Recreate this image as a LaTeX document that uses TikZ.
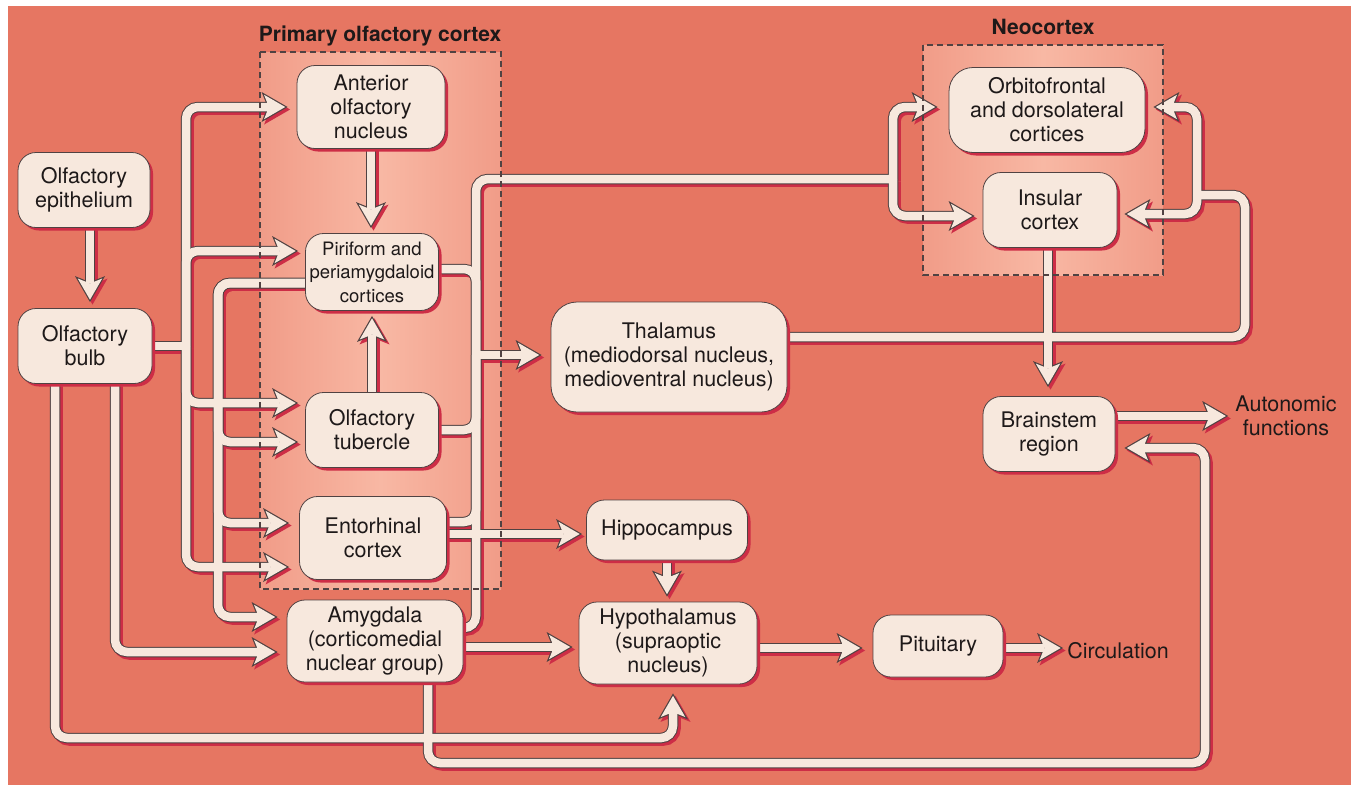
\documentclass[tikz,border=0pt]{standalone}
\usepackage{fontspec}
\setmainfont{TeX Gyre Heros}
\usetikzlibrary{arrows.meta,shadows}
\definecolor{bgsal}{RGB}{230,118,98}
\definecolor{panA}{RGB}{241,156,136}
\definecolor{panB}{RGB}{248,184,164}
\definecolor{cream}{RGB}{247,232,221}
\definecolor{outl}{RGB}{80,66,66}
\definecolor{shad}{RGB}{205,45,70}
\definecolor{txt}{RGB}{30,25,25}
\pgfdeclarelayer{back}
\pgfdeclarelayer{conn}
\pgfsetlayers{back,conn,main}

\newcommand\allconn{%
 % epithelium -> bulb
 \draw[cna=6pt] ([xshift=6pt]epi.south) -- ([xshift=6pt]epi.south |- bulb.north);
 % bulb trunk
 \draw[cn] (bulb.east) -- (jb);
 \draw[cna=9pt] (jb) |- (aon.west);
 \draw[cna=7pt] (jb) |- ([yshift=21pt]pir.west);
 \draw[cna=7pt] (jb) |- ([yshift=27pt]tub.west);
 \draw[cna=10pt] (jb) |- ([yshift=-29pt]ent.west);
 % piriform -> tubercle, entorhinal, amygdala
 \draw[cna=9pt] ([yshift=-11pt]pir.west) -| (218,330) |- ([yshift=24pt]amy.west);
 \draw[cna=7pt] ([yshift=-11pt]pir.west) -| (218,330) |- ([yshift=-12pt]tub.west);
 \draw[cna=10pt] ([yshift=-11pt]pir.west) -| (218,330) |- ([yshift=15pt]ent.west);
 % bulb bottom lines
 \draw[cna=9pt] ([xshift=-30pt]bulb.south) |- (673,738) -- ([xshift=5pt]hyp.south);
 \draw[cna=9pt] ([xshift=30pt]bulb.south) |- ([yshift=-11pt]amy.west);
 % amygdala -> hypothalamus
 \draw[cna=6pt] ([yshift=-6pt]amy.east) -- ([yshift=-4pt]hyp.west);
 % amygdala -> brainstem
 \draw[cna=9pt] ([xshift=53pt]amy.south) |- (1205,763) |- ([yshift=-14pt]brain.east);
 % amygdala -> neocortex
 \draw[cn] ([yshift=13pt]amy.east) -| (476,179) -- (jn);
 \draw[cna=11pt] (jn) |- ([yshift=3pt]orb.west);
 \draw[cna=8pt] (jn) |- ([yshift=-6pt]ins.west);
 % primary cortex -> thalamus
 \draw[cn] ([yshift=3pt]pir.east) -| (jt);
 \draw[cn] (tub.east) -| (jt);
 \draw[cn] ([yshift=16pt]ent.east) -| (jt);
 \draw[cna=9pt] (jt) -- ([yshift=2pt]thal.west);
 % entorhinal -> hippocampus
 \draw[cna=4pt] ([yshift=4pt]ent.east) -- ([yshift=-4pt]hip.west);
 % thalamus -> neocortex
 \draw[cn] ([yshift=20pt]thal.east) -| (1245,195) -- (jr);
 \draw[cna=8pt] (jr) |- ([yshift=3pt]orb.east);
 \draw[cna=7pt] (jr) |- ([yshift=-4pt]ins.east);
 % insular -> brainstem
 \draw[cna=9pt] ([xshift=-2pt]ins.south) -- ([xshift=-2pt]ins.south |- brain.north);
 % brainstem -> autonomic
 \draw[cna=5pt] ([yshift=18pt]brain.east) -- (auto.west);
 % hippocampus -> hypothalamus
 \draw[cna=5pt] (hip.south) -- (hip.south |- hyp.north);
 % hypothalamus -> pituitary
 \draw[cna=10pt] ([yshift=-5pt]hyp.east) -- ([yshift=-2pt]pit.west);
 % pituitary -> circulation
 \draw[cna=2pt] ([yshift=-2pt]pit.east) -- ([yshift=3pt]circ.west);
 % anterior -> piriform, tubercle -> piriform
 \draw[cna=5pt] (aon.south) -- (aon.south |- pir.north);
 \draw[cna=5pt] (tub.north) -- (pir.south);
}

\begin{document}
\begin{tikzpicture}[x=1pt, y=-1pt,
  font=\fontsize{21.5pt}{24pt}\selectfont, text=txt,
  box/.style={draw=outl, line width=0.8pt, fill=cream, rounded corners=18pt,
    align=center, inner sep=2pt,
    drop shadow={shadow xshift=3pt, shadow yshift=-3pt, fill=shad, opacity=1}},
  lbl/.style={align=center, inner sep=2pt},
  ttl/.style={inner sep=1pt, font=\fontsize{21pt}{24pt}\selectfont\bfseries},
  dashbox/.style={draw=outl, line width=1.3pt, dash pattern=on 6pt off 4pt}]
\useasboundingbox (0,0) rectangle (1359,785);

\begin{pgfonlayer}{back}
 \fill[white] (0,0) rectangle (1359,785);
 \fill[bgsal] (8,6) rectangle (1351,785);
 \shade[left color=panA, right color=panA, middle color=panB] (260,52) rectangle (501,589);
 \shade[left color=panA, right color=panA, middle color=panB] (923,45) rectangle (1163,275);
\end{pgfonlayer}

% junction points
\coordinate (jb) at (186,346);
\coordinate (jt) at (476,355);
\coordinate (jn) at (893,179);
\coordinate (jr) at (1197,195);

% nodes
\node[box, minimum width=132pt, minimum height=75pt] (epi) at (84,190) {Olfactory\\epithelium};
\node[box, minimum width=134pt, minimum height=75pt] (bulb) at (85,346) {Olfactory\\bulb};
\node[box, minimum width=148pt, minimum height=83pt] (aon) at (371,107) {Anterior\\olfactory\\nucleus};
\node[box, minimum width=133pt, minimum height=77pt, font=\fontsize{18.5pt}{23.5pt}\selectfont] (pir) at (372,272) {Piriform and\\periamygdaloid\\cortices};
\node[box, minimum width=133pt, minimum height=75pt] (tub) at (372,430) {Olfactory\\tubercle};
\node[box, minimum width=147pt, minimum height=83pt] (ent) at (373,538) {Entorhinal\\cortex};
\node[box, minimum width=176pt, minimum height=82pt] (amy) at (375,641) {Amygdala\\(corticomedial\\nuclear group)};
\node[box, minimum width=236pt, minimum height=110pt, rounded corners=26pt] (thal) at (669,357) {Thalamus\\(mediodorsal nucleus,\\medioventral nucleus)};
\node[box, minimum width=196pt, minimum height=85pt, rounded corners=24pt] (orb) at (1047,110) {Orbitofrontal\\and dorsolateral\\cortices};
\node[box, minimum width=134pt, minimum height=75pt] (ins) at (1050,210) {Insular\\cortex};
\node[box, minimum width=132pt, minimum height=75pt] (brain) at (1049,434) {Brainstem\\region};
\node[box, minimum width=161pt, minimum height=60pt] (hip) at (667,530) {Hippocampus};
\node[box, minimum width=178pt, minimum height=82pt] (hyp) at (668,643) {Hypothalamus\\(supraoptic\\nucleus)};
\node[box, minimum width=130pt, minimum height=62pt] (pit) at (938,646) {Pituitary};
\node[lbl] (auto) at (1286,416) {Autonomic\\functions};
\node[lbl] (circ) at (1118,651) {Circulation};
\node[ttl] (tpoc) at (380,36) {Primary olfactory cortex};
\node[ttl] (tneo) at (1043,27) {Neocortex};

% dashed region borders
\draw[dashbox] (260,52) rectangle (501,589);
\draw[dashbox] (923,45) rectangle (1163,275);

% connectors: shadow, outline, fill
\begin{pgfonlayer}{conn}
\begin{scope}[transform canvas={shift={(2.5pt,-2.5pt)}},
  cn/.style={draw=shad, line width=10.5pt, rounded corners=12pt},
  cna/.style={cn, -{Stealth[length=26pt,width=30pt,inset=6pt,line width=0pt]}, shorten >=#1},
  cna/.default=7pt]
 \allconn
\end{scope}
\begin{scope}[
  cn/.style={draw=outl, line width=10.5pt, rounded corners=12pt},
  cna/.style={cn, -{Stealth[length=26pt,width=30pt,inset=6pt,line width=0pt]}, shorten >=#1},
  cna/.default=7pt]
 \allconn
\end{scope}
\begin{scope}[
  cn/.style={draw=cream, line width=8.5pt, rounded corners=12pt},
  cna/.style={cn, -{Stealth[length=21.2pt,width=24.5pt,inset=4.9pt,line width=0pt]}, shorten >=#1+2.4pt},
  cna/.default=7pt]
 \allconn
\end{scope}
\end{pgfonlayer}
\end{tikzpicture}
\end{document}
